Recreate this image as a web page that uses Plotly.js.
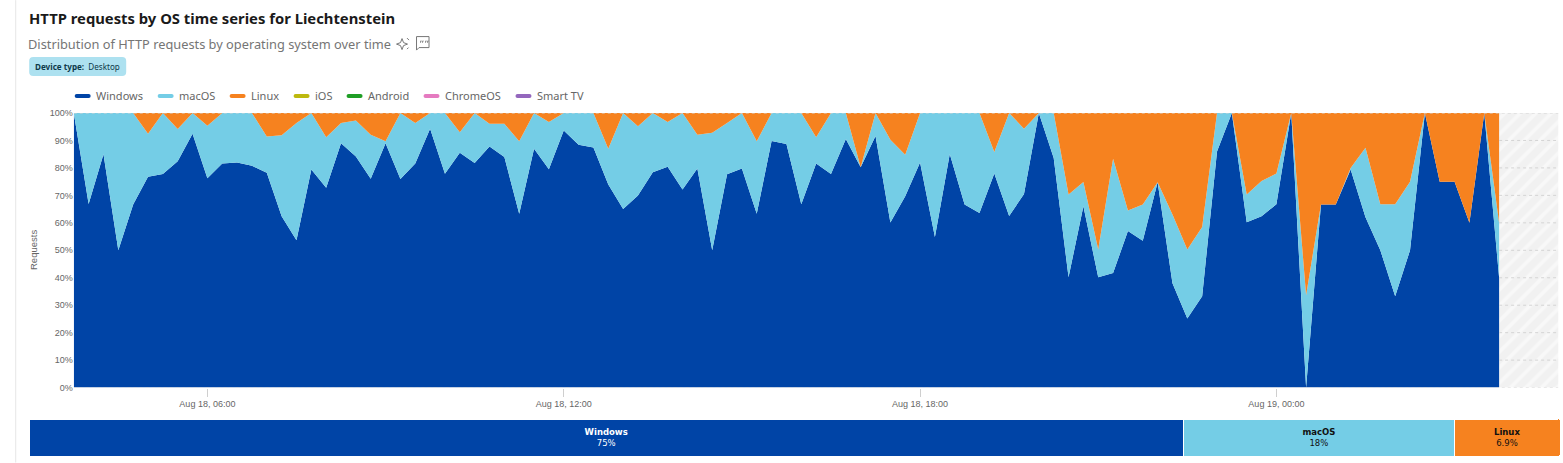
<!DOCTYPE html>
<html><head><meta charset="utf-8">
<script src="https://cdn.plot.ly/plotly-3.0.1.min.js"></script>
<style>html,body{margin:0;padding:0;background:#fff;overflow:hidden}#c{width:1563px;height:463px}</style>
</head><body><div id="c"></div>
<script>
const startTime = "2025-08-18T03:45:00";
const stepMinutes = 15;
const futureEnd = "2025-08-19T04:45:00";
const windowsShare = [100,66.9,85,50,66.7,76.8,77.8,82.4,92.4,76.2,81.6,82,80.8,78.2,62.4,53.7,79.4,72.8,89,84.2,76.1,89,76,81.6,94.3,77.9,85.5,81.8,87.8,84,63.3,87,79.5,93.6,88.4,87.4,74,65,70,78.4,80.4,72.1,79.8,50,77.7,79.8,63.3,89.8,88.7,66.8,81.6,77.8,90.5,80.2,91.6,60.1,69.7,82,54.8,85.1,66.7,63.6,78,62.5,70.5,100,83.6,40.2,66,40.2,41.7,57,53.5,74.8,38,25.2,33.3,86,100,60.2,62.4,66.8,100,0,66.7,66.7,79.4,62,50,33.3,50,100,75,75,60,100,40];
const macosShare = [0,33.1,15,50,33.3,15.6,22.2,11.8,7.6,19.2,18.4,18,19.2,13.2,29.5,42.7,20.6,18.4,7.4,13.1,16,0.7,24,14.8,5.7,22.1,7.5,18.2,8.3,12.1,26.4,13,17.2,6.4,11.6,12.6,13,35,25.2,21.6,16.3,27.9,12.3,42.8,18.7,20.2,26.4,10.2,11.3,33.2,9.6,22.2,9.5,0,8.4,30.2,15.1,18,45.2,14.9,33.3,36.4,7.8,37.5,23.8,0,16.4,30.1,8.9,10.1,41.6,7.5,13.2,0,25,25.1,25.2,14,0,10.1,12.8,11.2,0,33.6,0,0,0.6,25.3,16.8,33.5,25,0,0,0,0,0,20];
const linuxShare = [0,0,0,0,0,7.6,0,5.8,0,4.6,0,0,0,8.6,8.1,3.6,0,8.8,3.6,2.7,7.9,10.3,0,3.6,0,0,7,0,3.9,3.9,10.3,0,3.3,0,0,0,13,0,4.8,0,3.3,0,7.9,7.2,3.6,0,10.3,0,0,0,8.8,0,0,19.8,0,9.7,15.2,0,0,0,0,0,14.2,0,5.7,0,0,29.7,25.1,49.7,16.7,35.5,33.3,25.2,37,49.7,41.5,0,0,29.7,24.8,22,0,66.4,33.3,33.3,20,12.7,33.2,33.2,25,0,25,25,40,0,40];
const legendNames = ["Windows","macOS","Linux","iOS","Android","ChromeOS","Smart TV"];
const legendColors = ["#0044a6","#74cde6","#f6821f","#bdb90e","#1f9e26","#e57ac0","#9467bd"];
const legendSwatchX = [74.5,157.5,229.5,293.5,346.5,423.5,515.5];
const summaryNames = ["Windows","macOS","Linux"];
const summaryWidths = [75.4,17.7,6.9];
const summaryLabels = ["75%","18%","6.9%"];
const summaryTextColors = ["#ffffff","#111111","#111111"];
const yTickValues = [0,10,20,30,40,50,60,70,80,90,100];
const xTickValues = ["2025-08-18T06:00:00","2025-08-18T12:00:00","2025-08-18T18:00:00","2025-08-19T00:00:00"];
const xTickLabels = ["Aug 18, 06:00","Aug 18, 12:00","Aug 18, 18:00","Aug 19, 00:00"];

const pad = n => String(n).padStart(2,"0");
const times = windowsShare.map((_,i)=>{
  const d = new Date(new Date(startTime).getTime()+i*stepMinutes*60000);
  return `${d.getFullYear()}-${pad(d.getMonth()+1)}-${pad(d.getDate())}T${pad(d.getHours())}:${pad(d.getMinutes())}:00`;
});
const lastTime = times[times.length-1];
const W=1563,H=463,L=28.8,R=2.5,T=113,B=6.5;
const pw=W-L-R, ph=H-T-B;
const px=x=>(x-L)/pw, py=y=>1-(y-T)/ph;
const font="Noto Sans";
const area=(name,y,color)=>({type:"scatter",mode:"none",name,x:times,y,stackgroup:"os",fillcolor:color,line:{width:0},showlegend:false,hoverinfo:"x+y+name",xaxis:"x",yaxis:"y"});
const traces=[
 {type:"scatter",mode:"lines",x:[lastTime,futureEnd],y:[100,100],fill:"tozeroy",line:{width:0},
  fillcolor:"rgba(0,0,0,0)",fillpattern:{shape:"/",bgcolor:"#f1f1f1",fgcolor:"#f8f8f8",size:11,solidity:0.35},showlegend:false,hoverinfo:"skip",xaxis:"x",yaxis:"y"},
 area(summaryNames[0],windowsShare,legendColors[0]),
 area(summaryNames[1],macosShare,legendColors[1]),
 area(summaryNames[2],linuxShare,legendColors[2]),
];
summaryNames.forEach((n,i)=>traces.push({type:"bar",orientation:"h",name:n,y:["share"],x:[summaryWidths[i]],
  marker:{color:legendColors[i],line:{color:"#ffffff",width:1}},text:[`<b>${n}</b><br>${summaryLabels[i]}`],textposition:"inside",insidetextanchor:"middle",constraintext:"none",
  textfont:{family:"DejaVu Sans",size:8.5,color:summaryTextColors[i]},showlegend:false,hoverinfo:"x+name",xaxis:"x2",yaxis:"y2"}));

const anno=(text,x,y,o={})=>Object.assign({text,xref:"paper",yref:"paper",x:px(x),y:py(y),xanchor:"left",yanchor:"middle",showarrow:false,font:{family:font,size:11,color:"#666"}},o);
const annotations=[
 anno("Distribution of HTTP requests by operating system over time",29,44,{font:{family:font,size:12.8,color:"#757575"},xshift:-3}),
 anno("<b>Device type:</b>  Desktop",35,66,{font:{family:font,size:8.1,color:"#0d3a4a"},xshift:-2}),
 anno("Requests",34,250,{textangle:-90,xanchor:"center",font:{family:"Liberation Sans",size:9.5,color:"#666"}}),
];
const shapes=[
 {type:"line",xref:"paper",yref:"paper",x0:px(15.5),x1:px(15.5),y0:py(0),y1:py(463),line:{color:"#e6e6e6",width:1}},
 {type:"path",xref:"paper",yref:"paper",xsizemode:"pixel",ysizemode:"pixel",xanchor:px(29),yanchor:py(76),
  path:"M4,0 H93 Q97,0 97,4 V15 Q97,19 93,19 H4 Q0,19 0,15 V4 Q0,0 4,0 Z",fillcolor:"#ade1f0",line:{width:0}},
 {type:"path",xref:"paper",yref:"paper",xsizemode:"pixel",ysizemode:"pixel",xanchor:px(402),yanchor:py(44),
  path:"M0,5.5 L-1.5,1.5 L-5.5,0 L-1.5,-1.5 L0,-5.5 L1.5,-1.5 L5.5,0 L1.5,1.5 Z M5,6 L7,4 M5,-5 L6.5,-3.5",fillcolor:"rgba(0,0,0,0)",line:{color:"#777",width:1}},
 {type:"path",xref:"paper",yref:"paper",xsizemode:"pixel",ysizemode:"pixel",xanchor:px(416.5),yanchor:py(49),
  path:"M0,-1 V12.5 H12.5 V1.5 H2.5 Z",fillcolor:"rgba(0,0,0,0)",line:{color:"#777",width:1}},
 {type:"path",xref:"paper",yref:"paper",xsizemode:"pixel",ysizemode:"pixel",xanchor:px(420),yanchor:py(42.5),
  path:"M1,2 L0.5,0 M3,2 L2.5,0 M6,2 L5.5,0 M8,2 L7.5,0" ,fillcolor:"rgba(0,0,0,0)",line:{color:"#555",width:0.9}},
];
yTickValues.forEach(v=>{
  const full = v===0||v===100;
  shapes.push({type:"line",layer:"above",xref:"x",yref:"y",x0:full?times[0]:lastTime,x1:futureEnd,y0:v,y1:v,line:{color:"#d4d4d4",width:1,dash:"3px,3px"}});
});
legendNames.forEach((n,i)=>{
  shapes.push({type:"path",xref:"paper",yref:"paper",xsizemode:"pixel",ysizemode:"pixel",xanchor:px(legendSwatchX[i]),yanchor:py(96),
   path:"M2,2 H14 Q16,2 16,0 Q16,-2 14,-2 H2 Q0,-2 0,0 Q0,2 2,2 Z",fillcolor:legendColors[i],line:{width:0}});
  annotations.push(anno(n,legendSwatchX[i]+21.5,95.5,{font:{family:font,size:11,color:"#666"},xshift:-2}));
});
const layout={
 width:W,height:H,margin:{l:L,r:R,t:T,b:B,pad:0},paper_bgcolor:"#fff",plot_bgcolor:"#fff",showlegend:false,barmode:"stack",bargap:0,barcornerradius:2,
 title:{text:"<b>HTTP requests by OS time series for Liechtenstein</b>",font:{family:font,size:14.8,color:"#1a1a1a"},x:29/W,xanchor:"left",xref:"container",y:1-19/H,yanchor:"middle",pad:{l:0}},
 xaxis:{type:"date",domain:[px(73.6),px(1559)],range:[times[0],futureEnd],tickmode:"array",tickvals:xTickValues,ticktext:xTickLabels,ticks:"outside",ticklen:8,tickcolor:"#cfcfcf",tickwidth:1,
   tickfont:{family:"Liberation Sans",size:9,color:"#666"},showgrid:false,zeroline:false,showline:false,anchor:"y"},
 yaxis:{domain:[py(388),1],range:[0,100],tickmode:"array",tickvals:yTickValues,ticktext:yTickValues.map(v=>v+"%"),ticks:"",ticklen:0,tickfont:{family:"Liberation Sans",size:9,color:"#666"},
   showgrid:false,zeroline:false,showline:false,anchor:"x",automargin:false},
 xaxis2:{domain:[0,1],range:[0,100],visible:false,anchor:"y2",fixedrange:true},
 yaxis2:{domain:[0,py(419.5)],visible:false,anchor:"x2",fixedrange:true},
 annotations,shapes
};
Plotly.newPlot("c",traces,layout,{displayModeBar:false,staticPlot:true});
</script></body></html>
